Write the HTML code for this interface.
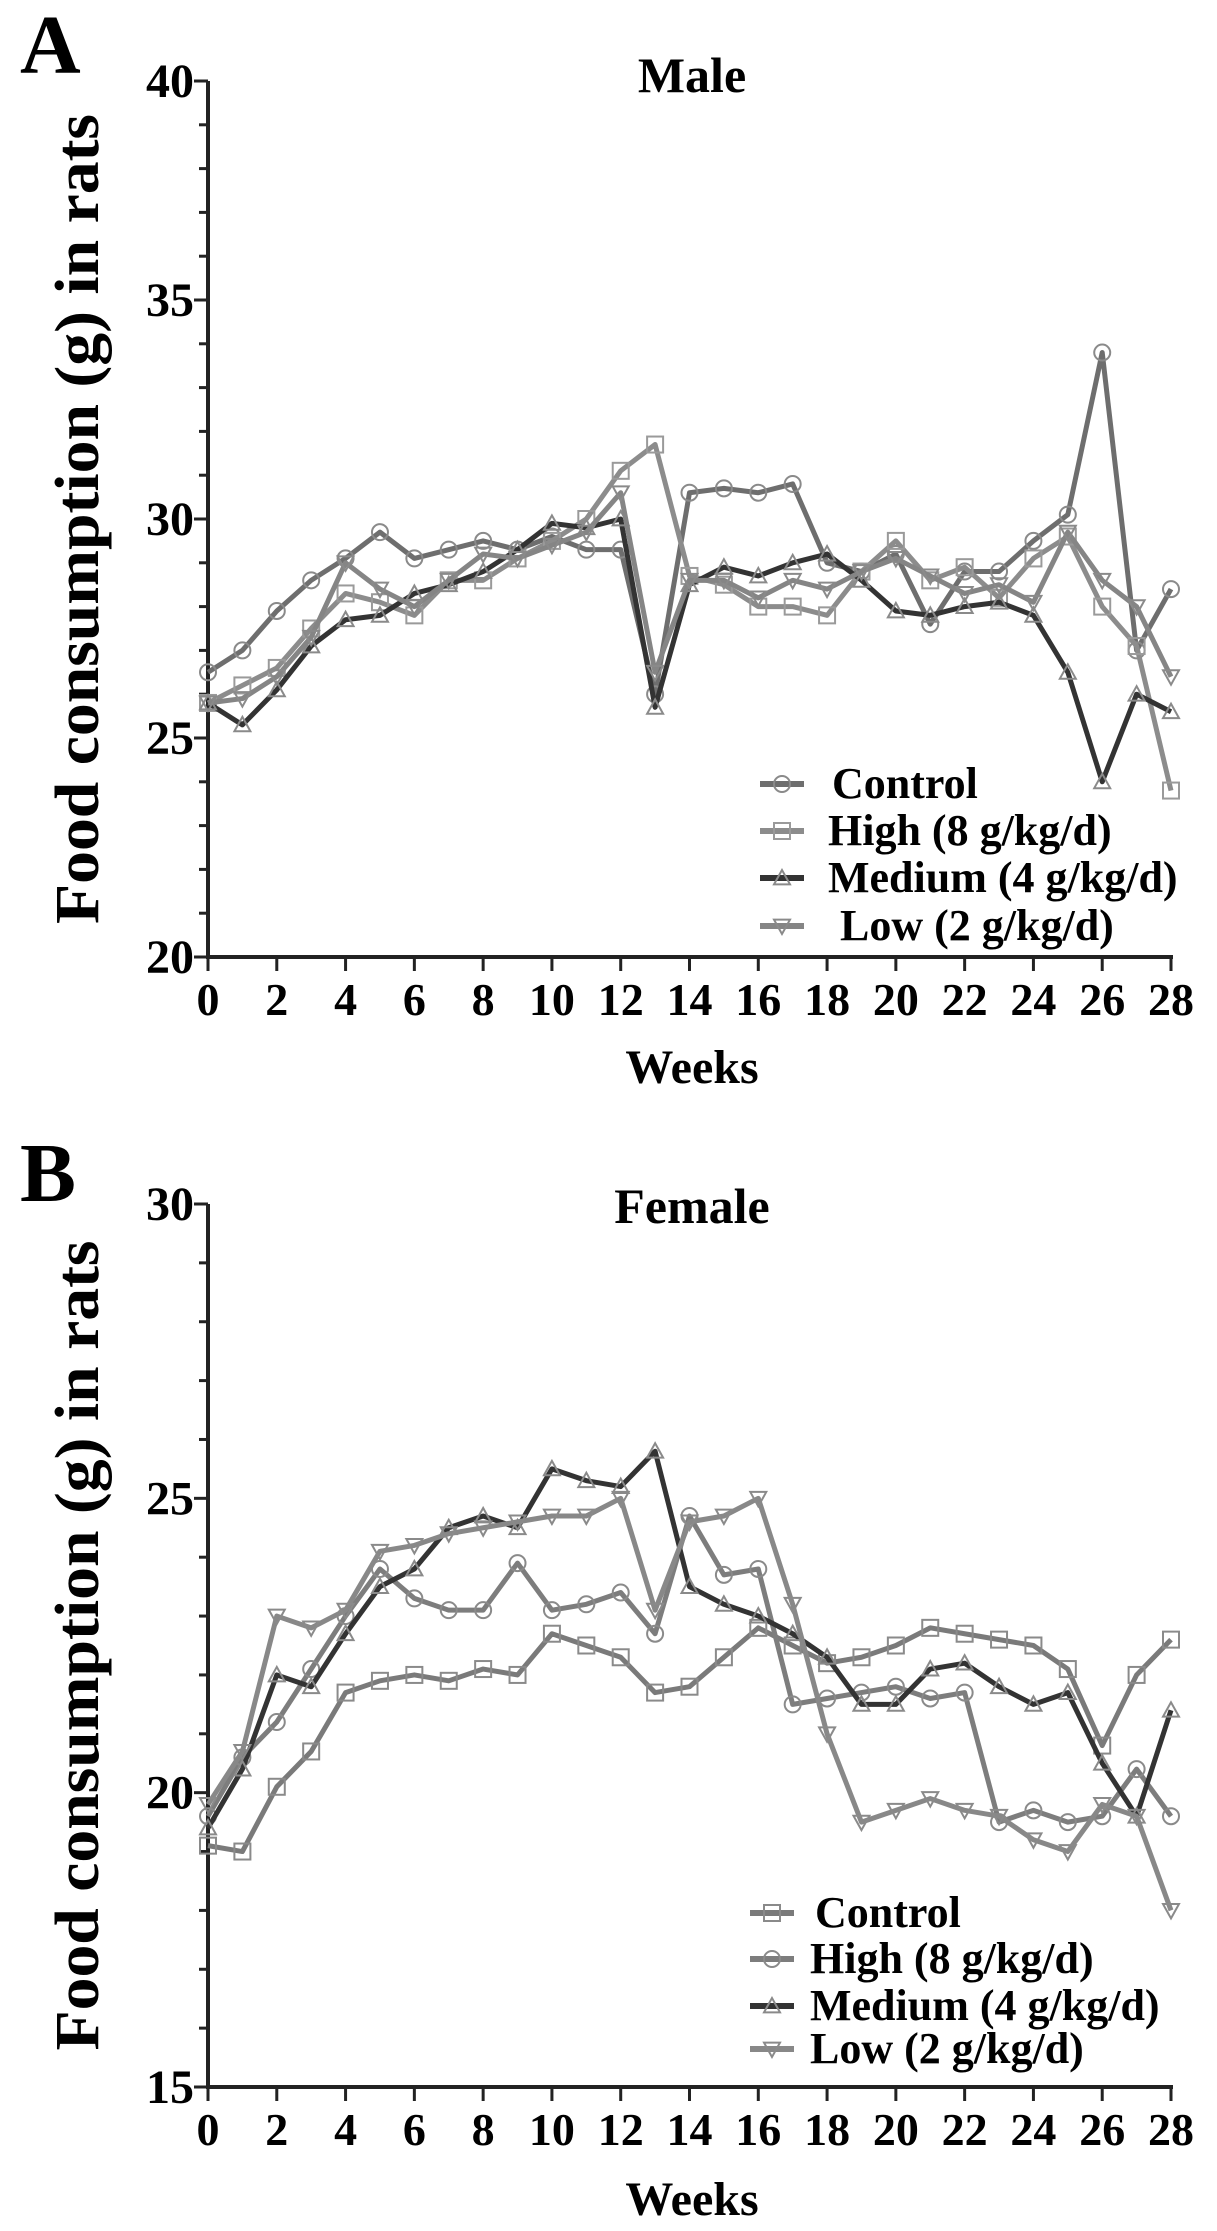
<!DOCTYPE html>
<html><head><meta charset="utf-8"><style>
html,body{margin:0;padding:0;background:#fff;}
svg{display:block;font-family:"Liberation Serif",serif;font-weight:bold;}
</style></head><body>
<svg id="chart" width="1217" height="2231" viewBox="0 0 1217 2231" xmlns="http://www.w3.org/2000/svg" font-family="Liberation Serif, serif" font-weight="bold"></svg>
<script>
const weeks = [0,1,2,3,4,5,6,7,8,9,10,11,12,13,14,15,16,17,18,19,20,21,22,23,24,25,26,27,28];
const xTicks = [0,2,4,6,8,10,12,14,16,18,20,22,24,26,28];
const yTicksA = [20,25,30,35,40];
const yTicksB = [15,20,25,30];
const maleControl = [26.5,27.0,27.9,28.6,29.1,29.7,29.1,29.3,29.5,29.3,29.6,29.3,29.3,26.0,30.6,30.7,30.6,30.8,29.0,28.8,29.2,27.6,28.8,28.8,29.5,30.1,33.8,27.0,28.4];
const maleHigh = [25.8,26.2,26.6,27.5,28.3,28.1,27.8,28.6,28.6,29.1,29.5,30.0,31.1,31.7,28.7,28.5,28.0,28.0,27.8,28.8,29.5,28.6,28.9,28.2,29.1,29.6,28.0,27.1,23.8];
const maleMedium = [25.8,25.3,26.1,27.1,27.7,27.8,28.3,28.5,28.8,29.3,29.9,29.8,30.0,25.7,28.5,28.9,28.7,29.0,29.2,28.6,27.9,27.8,28.0,28.1,27.8,26.5,24.0,26.0,25.6];
const maleLow = [25.8,25.9,26.4,27.3,29.0,28.4,28.0,28.6,29.2,29.1,29.4,29.7,30.6,26.5,28.6,28.6,28.2,28.6,28.4,28.8,29.1,28.7,28.3,28.5,28.1,29.7,28.6,28.0,26.4];
const femControl = [19.1,19.0,20.1,20.7,21.7,21.9,22.0,21.9,22.1,22.0,22.7,22.5,22.3,21.7,21.8,22.3,22.8,22.5,22.2,22.3,22.5,22.8,22.7,22.6,22.5,22.1,20.8,22.0,22.6];
const femHigh = [19.6,20.6,21.2,22.1,23.0,23.8,23.3,23.1,23.1,23.9,23.1,23.2,23.4,22.7,24.7,23.7,23.8,21.5,21.6,21.7,21.8,21.6,21.7,19.5,19.7,19.5,19.6,20.4,19.6];
const femMedium = [19.4,20.4,22.0,21.8,22.7,23.5,23.8,24.5,24.7,24.5,25.5,25.3,25.2,25.8,23.5,23.2,23.0,22.7,22.3,21.5,21.5,22.1,22.2,21.8,21.5,21.7,20.5,19.6,21.4];
const femLow = [19.8,20.7,23.0,22.8,23.1,24.1,24.2,24.4,24.5,24.6,24.7,24.7,25.0,23.1,24.6,24.7,25.0,23.2,21.0,19.5,19.7,19.9,19.7,19.6,19.2,19.0,19.8,19.6,18.0];

const NS="http://www.w3.org/2000/svg";
const svg=document.getElementById('chart');
function mk(tag,attrs,parent){const e=document.createElementNS(NS,tag);for(const k in attrs)e.setAttribute(k,attrs[k]);(parent||svg).appendChild(e);return e;}

function marker(g,type,cx,cy,color){
  const s=8;let m;
  if(type==='circle'){m=mk('circle',{cx:cx,cy:cy,r:s,fill:'none',stroke:color,'stroke-width':2},g);}
  else if(type==='square'){m=mk('rect',{x:cx-s,y:cy-s,width:2*s,height:2*s,fill:'none',stroke:color,'stroke-width':2},g);}
  else if(type==='tri'){m=mk('polygon',{points:`${cx},${cy-s} ${cx-s},${cy+s*0.8} ${cx+s},${cy+s*0.8}`,fill:'none',stroke:color,'stroke-width':2},g);}
  else {m=mk('polygon',{points:`${cx},${cy+s} ${cx-s},${cy-s*0.8} ${cx+s},${cy-s*0.8}`,fill:'none',stroke:color,'stroke-width':2},g);}
  
  
}

function panel(cfg){
  const x0=208,x1=1171;
  const X=w=>x0+(w-0)/28*(x1-x0);
  const Y=v=>cfg.yb-(v-cfg.ymin)/(cfg.ymax-cfg.ymin)*(cfg.yb-cfg.yt);
  const g=mk('g',{});
  
  
  let t=mk('text',{x:20,y:cfg.letterY,'font-size':84},g);t.textContent=cfg.letter;
  
  t=mk('text',{x:692,y:cfg.titleY,'font-size':50,'text-anchor':'middle'},g);t.textContent=cfg.title;
  
  let a=mk('line',{x1:x0,y1:cfg.yt,x2:x0,y2:cfg.yb+2,stroke:'#222','stroke-width':4},g);
  
  a=mk('line',{x1:x0-2,y1:cfg.yb,x2:x1+2,y2:cfg.yb,stroke:'#222','stroke-width':4},g);
  
  for(let v=cfg.ymin;v<=cfg.ymax;v++){
    const maj=cfg.yticks.includes(v);
    mk('line',{x1:x0-(maj?14:9),y1:Y(v),x2:x0,y2:Y(v),stroke:'#222','stroke-width':3},g);
  }
  cfg.yticks.forEach(v=>{const l=mk('text',{x:x0-14,y:Y(v)+16,'font-size':48,'text-anchor':'end'},g);l.textContent=v;
    });
  xTicks.forEach(w=>{mk('line',{x1:X(w),y1:cfg.yb,x2:X(w),y2:cfg.yb+14,stroke:'#222','stroke-width':3},g);
    const l=mk('text',{x:X(w),y:cfg.xlabY,'font-size':46,'text-anchor':'middle'},g);l.textContent=w;
    });
  t=mk('text',{x:692,y:cfg.weeksY,'font-size':48,'text-anchor':'middle'},g);t.textContent='Weeks';
  
  const cy=(cfg.yt+cfg.yb)/2;
  t=mk('text',{x:0,y:0,'font-size':62,'text-anchor':'middle',transform:`translate(98,${cy}) rotate(-90)`,textLength:810,lengthAdjust:'spacingAndGlyphs'},g);
  t.textContent='Food consumption (g) in rats';
  
  cfg.series.forEach(s=>{
    const sg=mk('g',{},g);
    
    
    const pts=weeks.map((w,i)=>X(w)+','+Y(s.data[i])).join(' ');
    const pl=mk('polyline',{points:pts,fill:'none',stroke:s.color,'stroke-width':5,'stroke-linejoin':'round'},sg);
    
    weeks.forEach((w,i)=>marker(sg,s.mk,X(w),Y(s.data[i]),s.mcolor));
  });
  const lg=mk('g',{},g);
  
  cfg.series.forEach((s,i)=>{
    const ly=cfg.legY[i];
    const eg=mk('g',{},lg);
    
    mk('line',{x1:cfg.legX0,y1:ly-14,x2:cfg.legX0+44,y2:ly-14,stroke:s.color,'stroke-width':6},eg);
    marker(eg,s.mk,cfg.legX0+22,ly-14,s.mcolor);
    const lt=mk('text',{x:cfg.legTX[i],y:ly,'font-size':44},eg);lt.textContent=s.label;
  });
}

panel({name:'male-panel',letter:'A',letterY:73,title:'Male',titleY:92,ymin:20,ymax:40,yt:81,yb:957,yticks:yTicksA,xlabY:1015,weeksY:1083,
  legX0:760,legTX:[832,828,828,840],legY:[798,845,892,940],
  series:[
    {key:'control',label:'Control',data:maleControl,color:'#6e6e6e',mcolor:'#8a8a8a',mk:'circle'},
    {key:'high',label:'High (8 g/kg/d)',data:maleHigh,color:'#8c8c8c',mcolor:'#9a9a9a',mk:'square'},
    {key:'medium',label:'Medium (4 g/kg/d)',data:maleMedium,color:'#333',mcolor:'#8a8a8a',mk:'tri'},
    {key:'low',label:'Low (2 g/kg/d)',data:maleLow,color:'#858585',mcolor:'#8a8a8a',mk:'inv'}]});
panel({name:'female-panel',letter:'B',letterY:1201,title:'Female',titleY:1223,ymin:15,ymax:30,yt:1204,yb:2087,yticks:yTicksB,xlabY:2145,weeksY:2215,
  legX0:750,legTX:[815,810,810,810],legY:[1927,1973,2020,2063],
  series:[
    {key:'control',label:'Control',data:femControl,color:'#7a7a7a',mcolor:'#8a8a8a',mk:'square'},
    {key:'high',label:'High (8 g/kg/d)',data:femHigh,color:'#7d7d7d',mcolor:'#8a8a8a',mk:'circle'},
    {key:'medium',label:'Medium (4 g/kg/d)',data:femMedium,color:'#333',mcolor:'#8a8a8a',mk:'tri'},
    {key:'low',label:'Low (2 g/kg/d)',data:femLow,color:'#888',mcolor:'#8a8a8a',mk:'inv'}]});
</script>
</body></html>
